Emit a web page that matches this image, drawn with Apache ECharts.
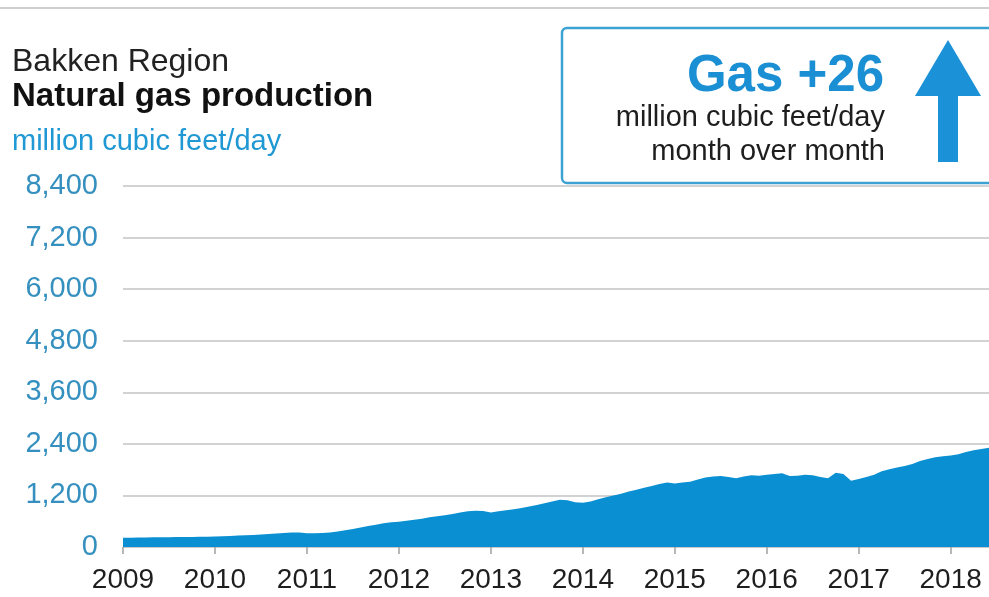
<!DOCTYPE html>
<html>
<head>
<meta charset="utf-8">
<title>Bakken Region natural gas production</title>
<script src="https://cdn.jsdelivr.net/npm/echarts@6/dist/echarts.min.js"></script>
<style>
  html, body { margin: 0; padding: 0; background: #ffffff; }
  #chart { width: 989px; height: 597px; }
</style>
</head>
<body>
<div id="chart"></div>
<script>
// Monthly natural gas production, million cubic feet/day (Jan 2009 – Jun 2018)
const gas2009 = [215, 218, 220, 222, 224, 226, 228, 230, 232, 234, 238, 240];
const gas2010 = [245, 252, 258, 266, 274, 282, 290, 300, 312, 325, 340, 335];
const gas2011 = [320, 318, 326, 340, 360, 390, 420, 455, 490, 520, 550, 575];
const gas2012 = [590, 610, 635, 660, 690, 715, 740, 770, 800, 830, 845, 835];
const gas2013 = [805, 830, 855, 880, 910, 945, 980, 1020, 1060, 1100, 1090, 1040];
const gas2014 = [1030, 1060, 1110, 1160, 1200, 1240, 1290, 1335, 1380, 1420, 1465, 1500];
const gas2015 = [1480, 1500, 1520, 1570, 1620, 1640, 1650, 1630, 1600, 1640, 1670, 1660];
const gas2016 = [1680, 1700, 1715, 1650, 1660, 1680, 1670, 1630, 1600, 1730, 1700, 1540];
const gas2017 = [1580, 1630, 1680, 1760, 1810, 1850, 1885, 1930, 2000, 2050, 2090, 2110];
const gas2018 = [2130, 2160, 2210, 2250, 2280, 2310];

const years = ['2009', '2010', '2011', '2012', '2013', '2014', '2015', '2016', '2017', '2018'];
const yTicks = [0, 1200, 2400, 3600, 4800, 6000, 7200, 8400];

const gasByYear = [gas2009, gas2010, gas2011, gas2012, gas2013, gas2014, gas2015, gas2016, gas2017, gas2018];

// Month categories "YYYY-MM" paired with the yearly arrays
const months = [];
const values = [];
gasByYear.forEach(function (arr, yi) {
  arr.forEach(function (v, mi) {
    months.push(years[yi] + '-' + String(mi + 1).padStart(2, '0'));
    values.push(v);
  });
});

const FONT = '"Liberation Sans", Arial, Helvetica, sans-serif';
const BLUE = '#0a90d2';

const chart = echarts.init(document.getElementById('chart'), null, { renderer: 'canvas' });

const yearStart = function (idx) { return idx % 12 === 0; };

chart.setOption({
  backgroundColor: '#ffffff',
  animation: false,
  grid: { left: 123, right: 0, top: 186, bottom: 50, containLabel: false },
  xAxis: {
    type: 'category',
    data: months,
    boundaryGap: false,
    axisLine: { show: true, lineStyle: { color: '#c8c8c8', width: 1 } },
    axisTick: {
      show: true,
      interval: yearStart,
      length: 7,
      lineStyle: { color: '#a0a0a0', width: 1.5 }
    },
    axisLabel: {
      interval: yearStart,
      margin: 19,
      color: '#1e1e1e',
      fontFamily: FONT,
      fontSize: 28,
      formatter: function (v) { return v.slice(0, 4); }
    },
    splitLine: { show: false }
  },
  yAxis: {
    type: 'value',
    min: yTicks[0],
    max: yTicks[yTicks.length - 1],
    interval: yTicks[1] - yTicks[0],
    axisLine: { show: false },
    axisTick: { show: false },
    axisLabel: {
      margin: 25,
      color: '#3590bf',
      fontFamily: FONT,
      fontSize: 29,
      formatter: function (v) { return v.toLocaleString('en-US'); }
    },
    splitLine: { show: true, lineStyle: { color: '#d2d2d2', width: 2 } }
  },
  series: [{
    type: 'line',
    data: values,
    symbol: 'none',
    smooth: false,
    lineStyle: { width: 0, color: BLUE },
    areaStyle: { color: BLUE, opacity: 1 },
    z: 3
  }],
  graphic: [
    // top rule
    { type: 'rect', shape: { x: 0, y: 7, width: 989, height: 2 }, style: { fill: '#cfcfcf' }, silent: true },
    // titles
    { type: 'text', left: 12, top: 46, style: { text: 'Bakken Region', font: '32px ' + FONT, fill: '#222222' } },
    { type: 'text', left: 12, top: 80, style: { text: 'Natural gas production', font: 'bold 33px ' + FONT, fill: '#111111' } },
    { type: 'text', left: 12, top: 127, style: { text: 'million cubic feet/day', font: '29px ' + FONT, fill: '#1f98d4' } },
    // callout box
    {
      type: 'rect',
      shape: { x: 562, y: 28, width: 440, height: 155, r: 5 },
      style: { fill: '#ffffff', stroke: '#3ca2d4', lineWidth: 2.5 },
      z: 10
    },
    {
      type: 'text', z: 11,
      style: { x: 884, y: 77, text: 'Gas +26', font: 'bold 51px ' + FONT, fill: '#1b8fd4', textAlign: 'right', textVerticalAlign: 'middle' }
    },
    {
      type: 'text', z: 11,
      style: { x: 885, y: 118, text: 'million cubic feet/day', font: '29px ' + FONT, fill: '#1e1e1e', textAlign: 'right', textVerticalAlign: 'middle' }
    },
    {
      type: 'text', z: 11,
      style: { x: 885, y: 152, text: 'month over month', font: '29px ' + FONT, fill: '#1e1e1e', textAlign: 'right', textVerticalAlign: 'middle' }
    },
    {
      type: 'polygon', z: 11,
      shape: { points: [[948, 40], [981, 96], [958, 96], [958, 162], [938, 162], [938, 96], [915, 96]] },
      style: { fill: '#1b91d8' }
    }
  ]
});
</script>
</body>
</html>
